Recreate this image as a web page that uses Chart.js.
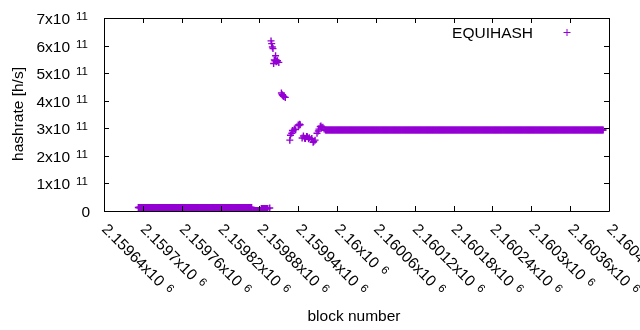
<!DOCTYPE html>
<html>
<head>
<meta charset="utf-8">
<script src="https://cdn.jsdelivr.net/npm/chart.js@4"></script>
<style>
  html, body { margin: 0; padding: 0; background: #fff; }
  #wrap { width: 640px; height: 330px; position: relative; }
</style>
</head>
<body>
<div id="wrap"><canvas id="hashChart" width="640" height="330"></canvas></div>
<script>
// Flat stretches of hashrate (one cross per block in each run)
const runStart = [2159693, 2159870, 2159883, 2159982];
const runEnd   = [2159868, 2159882, 2159893, 2160411];
const runValue = [1.27e10, 0.2e10, 0.9e10, 2.94e11];

// Scattered points around the jump
const spikeBlocks = [
  2159896, 2159898, 2159899, 2159900, 2159901, 2159902, 2159903, 2159904,
  2159905, 2159906, 2159907, 2159908, 2159910, 2159914, 2159915, 2159916,
  2159917, 2159918, 2159920, 2159927, 2159928, 2159930, 2159931, 2159932,
  2159934, 2159936, 2159940, 2159941, 2159942, 2159943, 2159946, 2159948,
  2159950, 2159951, 2159953, 2159954, 2159956, 2159957, 2159960, 2159961,
  2159963, 2159964, 2159966, 2159969, 2159971, 2159972, 2159974, 2159975,
  2159976, 2159978, 2159980,
];
const spikeValues = [
  1.1e10, 6.17e11, 6.07e11, 5.95e11, 5.89e11, 5.35e11, 5.48e11, 5.45e11,
  5.63e11, 5.41e11, 5.44e11, 5.45e11, 5.39e11, 4.28e11, 4.22e11, 4.20e11,
  4.16e11, 4.15e11, 4.12e11, 2.57e11, 2.75e11, 2.82e11, 2.92e11, 2.91e11,
  2.97e11, 2.95e11, 3.12e11, 3.10e11, 3.15e11, 3.13e11, 2.65e11, 2.72e11,
  2.64e11, 2.63e11, 2.70e11, 2.69e11, 2.62e11, 2.66e11, 2.60e11, 2.63e11,
  2.49e11, 2.52e11, 2.57e11, 2.82e11, 2.90e11, 2.97e11, 3.06e11, 3.08e11,
  3.02e11, 3.04e11, 2.97e11,
];

// Axis ticks
const yTickValues = [0, 1e11, 2e11, 3e11, 4e11, 5e11, 6e11, 7e11];
const yTickLabels = ["0", "1x10", "2x10", "3x10", "4x10", "5x10", "6x10", "7x10"];
const yTickExp    = "11";
const xTickValues = [2159640, 2159700, 2159760, 2159820, 2159880, 2159940, 2160000,
                     2160060, 2160120, 2160180, 2160240, 2160300, 2160360, 2160420];
const xTickLabels = ["2.15964x10", "2.1597x10", "2.15976x10", "2.15982x10", "2.15988x10",
                     "2.15994x10", "2.16x10", "2.16006x10", "2.16012x10", "2.16018x10",
                     "2.16024x10", "2.1603x10", "2.16036x10", "2.16042x10"];
const xTickExp    = "6";

const SERIES_NAME = "EQUIHASH";
const PURPLE = "#9400d3";
const FONT = "'Liberation Sans', Arial, sans-serif";

const points = [];
runStart.forEach((s, i) => {
  for (let b = s; b <= runEnd[i]; b++) points.push({ x: b, y: runValue[i] });
});
spikeBlocks.forEach((b, i) => points.push({ x: b, y: spikeValues[i] }));

// gnuplot-style frame, inward ticks, superscript labels, key
const gnuFrame = {
  id: "gnuFrame",
  afterDraw(chart) {
    const { ctx, chartArea: a, scales } = chart;
    const xs = scales.x, ys = scales.y;
    const TL = 5;
    ctx.save();
    ctx.strokeStyle = "#000";
    ctx.lineWidth = 1;
    ctx.beginPath();
    ctx.rect(Math.round(a.left) + 0.5, Math.round(a.top) + 0.5,
             Math.round(a.right - a.left), Math.round(a.bottom - a.top));
    yTickValues.forEach(v => {
      const py = Math.round(ys.getPixelForValue(v)) + 0.5;
      ctx.moveTo(a.left, py); ctx.lineTo(a.left + TL, py);
      ctx.moveTo(a.right, py); ctx.lineTo(a.right - TL, py);
    });
    xTickValues.forEach(v => {
      const px = Math.round(xs.getPixelForValue(v)) + 0.5;
      ctx.moveTo(px, a.bottom); ctx.lineTo(px, a.bottom - TL);
      ctx.moveTo(px, a.top); ctx.lineTo(px, a.top + TL);
    });
    ctx.stroke();

    ctx.fillStyle = "#000";
    ctx.textBaseline = "alphabetic";
    // y tick labels
    yTickValues.forEach((v, i) => {
      const py = ys.getPixelForValue(v);
      if (v === 0) {
        ctx.font = "15.5px " + FONT;
        ctx.textAlign = "right";
        ctx.fillText(yTickLabels[i], 90, py + 6);
        return;
      }
      ctx.font = "11.5px " + FONT;
      ctx.textAlign = "right";
      ctx.fillText(yTickExp, 88, py + 2);
      const ew = ctx.measureText(yTickExp).width;
      ctx.font = "15.5px " + FONT;
      ctx.fillText(yTickLabels[i], 88 - ew - 6, py + 6);
    });
    // x tick labels, rotated
    xTickValues.forEach((v, i) => {
      const px = xs.getPixelForValue(v);
      ctx.save();
      ctx.translate(px - 3, a.bottom + 19);
      ctx.rotate(Math.PI / 4);
      ctx.textAlign = "left";
      ctx.font = "15.5px " + FONT;
      ctx.fillText(xTickLabels[i], 0, 0);
      const w = ctx.measureText(xTickLabels[i]).width;
      ctx.font = "11.5px " + FONT;
      ctx.fillText(xTickExp, w + 6, -4);
      ctx.restore();
    });
    // axis titles
    ctx.font = "15.5px " + FONT;
    ctx.textAlign = "center";
    ctx.fillText("block number", 354, 321);
    ctx.save();
    ctx.translate(23, 114);
    ctx.rotate(-Math.PI / 2);
    ctx.fillText("hashrate [h/s]", 0, 0);
    ctx.restore();
    // key
    ctx.textAlign = "right";
    ctx.fillText(SERIES_NAME, 533, 38);
    ctx.strokeStyle = PURPLE;
    ctx.beginPath();
    ctx.moveTo(563.5, 32.5); ctx.lineTo(570.5, 32.5);
    ctx.moveTo(567, 29); ctx.lineTo(567, 36);
    ctx.stroke();
    ctx.restore();
  },
};

new Chart(document.getElementById("hashChart"), {
  type: "scatter",
  data: {
    datasets: [{
      label: SERIES_NAME,
      data: points,
      pointStyle: "cross",
      pointRadius: 3.5,
      pointBorderWidth: 1.4,
      borderColor: PURPLE,
      backgroundColor: PURPLE,
    }],
  },
  options: {
    responsive: false,
    animation: false,
    events: [],
    layout: { padding: { left: 104, top: 18, right: 31, bottom: 119 } },
    plugins: { legend: { display: false }, tooltip: { enabled: false } },
    scales: {
      x: { type: "linear", min: 2159640, max: 2160420, display: false },
      y: { type: "linear", min: 0, max: 7e11, display: false },
    },
  },
  plugins: [gnuFrame],
});
</script>
</body>
</html>
